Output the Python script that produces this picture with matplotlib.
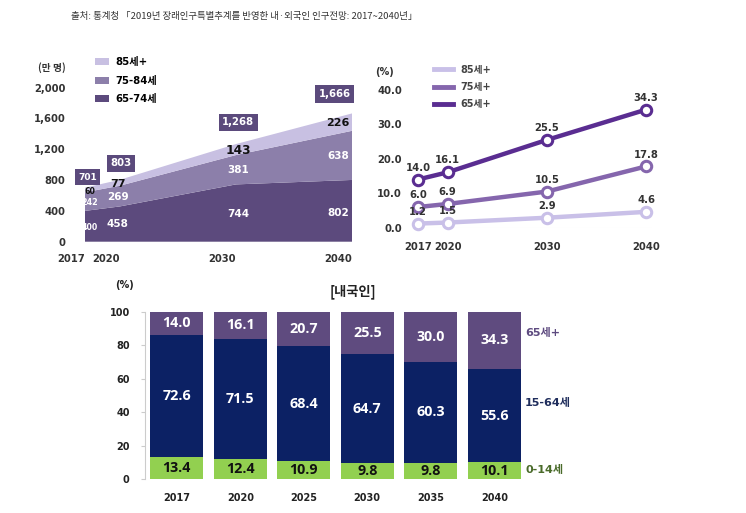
import numpy as np
import matplotlib.pyplot as plt
from matplotlib.patches import Patch
from matplotlib.lines import Line2D

plt.rcParams['font.family'] = ['DejaVu Sans', 'Noto Sans CJK KR']

# --- data ---
years_pop = [2017, 2020, 2030, 2040]
pop_65_74 = [400, 458, 744, 802]
pop_75_84 = [242, 269, 381, 638]
pop_85 = [60, 77, 143, 226]
pop_total = [701, 803, 1268, 1666]

years_ratio = [2017, 2020, 2030, 2040]
ratio_65 = [14.0, 16.1, 25.5, 34.3]
ratio_75 = [6.0, 6.9, 10.5, 17.8]
ratio_85 = [1.2, 1.5, 2.9, 4.6]

bar_years = ['2017', '2020', '2025', '2030', '2035', '2040']
share_0_14 = [13.4, 12.4, 10.9, 9.8, 9.8, 10.1]
share_15_64 = [72.6, 71.5, 68.4, 64.7, 60.3, 55.6]
share_65 = [14.0, 16.1, 20.7, 25.5, 30.0, 34.3]

W, H = 746, 513
fig = plt.figure(figsize=(W / 100, H / 100), dpi=100)

def px_axes(x0, y0, x1, y1):
    # pixel box (top-left origin) -> figure axes
    return fig.add_axes([x0 / W, 1 - y1 / H, (x1 - x0) / W, (y1 - y0) / H])

fig.text(244 / W, 1 - 16 / H,
         '출처: 통계청 「2019년 장래인구특별추계를 반영한 내·외국인 인구전망: 2017~2040년」',
         ha='center', va='center', fontsize=6.8, color='#333333',
         family=['Noto Sans CJK KR', 'DejaVu Sans'])

# --- top left: stacked area ---
c_dark, c_mid, c_light = '#5c4a7d', '#8c7faa', '#c8c0e2'
ax1 = px_axes(85, 87.7, 352, 241.7)
ax1.stackplot(years_pop, pop_65_74, pop_75_84, pop_85,
              colors=[c_dark, c_mid, c_light], linewidth=0)
ax1.set_xlim(2017, 2040)
ax1.set_ylim(0, 2000)
ax1.set_yticks([0, 400, 800, 1200, 1600, 2000])
ax1.set_yticklabels(['0', '400', '800', '1,200', '1,600', '2,000'])
ax1.set_xticks(years_pop)
ax1.set_xticklabels([str(y) for y in years_pop], ha='right')
ax1.tick_params(length=0, labelsize=7.2, labelcolor='#333333', pad=9)
ax1.tick_params(axis='y', pad=14)
for t in ax1.get_xticklabels() + ax1.get_yticklabels():
    t.set_fontweight('bold')
for s in ax1.spines.values():
    s.set_visible(False)

lab_x = [2017.4, 2019.8, 2030.2, 2038.8]
y65 = [190, 230, 360, 372]
y75 = [515, 580, 930, 1110]
y85 = [655, 745, 1190, 1540]
ytot = [840, 1020, 1553, 1918]
fs65 = [5.6, 7.5, 7.5, 7.5]
fs75 = [5.8, 7.5, 7.5, 7.5]
fs85 = [5.7, 8, 8.8, 8]
for i in range(4):
    ax1.text(lab_x[i], y65[i], f'{pop_65_74[i]}', ha='center', va='center',
             color='white', fontsize=fs65[i], fontweight='bold')
    ax1.text(lab_x[i], y75[i], f'{pop_75_84[i]}', ha='center', va='center',
             color='white', fontsize=fs75[i], fontweight='bold')
    ax1.text(lab_x[i], y85[i], f'{pop_85[i]}', ha='center', va='center',
             color='#111111', fontsize=fs85[i], fontweight='bold')
tot_x = [2017.2, 2020.1, 2030.2, 2038.5]
tot_fs = [6.5, 7.3, 7.3, 7.3]
for i in range(4):
    ax1.text(tot_x[i], ytot[i], f'{pop_total[i]:,}', ha='center', va='center',
             color='white', fontsize=tot_fs[i], fontweight='bold',
             bbox=dict(boxstyle='square,pad=0.35', fc='#5b4a7c', ec='none'),
             clip_on=False)

fig.text(52 / W, 1 - 68 / H, '(만 명)', ha='center', va='center',
         fontsize=7, fontweight='bold', color='#333333',
         family=['Noto Sans CJK KR', 'DejaVu Sans'])
leg1 = [Patch(fc=c_light, label='85세+'), Patch(fc=c_mid, label='75-84세'),
        Patch(fc=c_dark, label='65-74세')]
fig.legend(handles=leg1, loc='upper left', bbox_to_anchor=(86 / W, 1 - 48 / H),
           frameon=False, handlelength=1.4, handleheight=0.7,
           labelspacing=0.85, handletextpad=0.6,
           prop={'weight': 'bold', 'size': 7.3,
                 'family': ['DejaVu Sans', 'Noto Sans CJK KR']})

# --- top right: lines ---
l_dark, l_mid, l_light = '#5a2d91', '#8566ad', '#c9c0e8'
ax2 = px_axes(413, 90, 652, 227.7)
series = [(ratio_85, l_light, '85세+'), (ratio_75, l_mid, '75세+'),
          (ratio_65, l_dark, '65세+')]
for vals, col, name in series:
    ax2.plot(years_ratio, vals, color=col, lw=3.2, marker='o', ms=7.5,
             mfc='white', mec=col, mew=2.2, clip_on=False, label=name,
             solid_capstyle='round')
    for x, v in zip(years_ratio, vals):
        ax2.annotate(f'{v:.1f}', (x, v), xytext=(0, 8.5),
                     textcoords='offset points', ha='center', va='center',
                     fontsize=7.2, fontweight='bold', color='#333333')
ax2.set_xlim(2016.5, 2040.6)
ax2.set_ylim(0, 40)
ax2.set_yticks([0, 10, 20, 30, 40])
ax2.set_yticklabels(['0.0', '10.0', '20.0', '30.0', '40.0'])
ax2.set_xticks(years_ratio)
ax2.tick_params(length=0, labelsize=7.2, labelcolor='#333333')
ax2.tick_params(axis='x', pad=10)
ax2.tick_params(axis='y', pad=8)
for t in ax2.get_xticklabels() + ax2.get_yticklabels():
    t.set_fontweight('bold')
for s in ax2.spines.values():
    s.set_visible(False)
ax2.axhline(0, color='#eeeeee', lw=0.8, zorder=0)
fig.text(385 / W, 1 - 72 / H, '(%)', ha='center', va='center',
         fontsize=7, fontweight='bold', color='#333333')
leg2 = [Line2D([], [], color=c, lw=3.5, label=n) for _, c, n in series]
fig.legend(handles=leg2, loc='upper left', bbox_to_anchor=(425 / W, 1 - 56 / H),
           frameon=False, handlelength=2.0, labelspacing=0.75, handletextpad=0.7,
           prop={'weight': 'bold', 'size': 7,
                 'family': ['DejaVu Sans', 'Noto Sans CJK KR']},
           labelcolor='#444444')

# --- bottom: stacked bars ---
b_green, b_navy, b_purple = '#92d050', '#0c2164', '#5f4b7f'
ax3 = px_axes(145, 311.7, 526, 479.3)
xs = np.arange(len(bar_years))
bw = 0.83
bottom_mid = np.array(share_0_14)
bottom_top = bottom_mid + np.array(share_15_64)
ax3.bar(xs, share_0_14, bw, color=b_green)
ax3.bar(xs, share_15_64, bw, bottom=bottom_mid, color=b_navy)
ax3.bar(xs, 100 - bottom_top, bw, bottom=bottom_top, color=b_purple)
bar_font = dict(ha='center', va='center', fontsize=10.3, fontweight='bold',
                family=['Open Sans', 'DejaVu Sans'])
for i in range(len(xs)):
    ax3.text(xs[i], share_0_14[i] / 2, f'{share_0_14[i]:.1f}',
             color='#111111', **bar_font)
    ax3.text(xs[i], bottom_mid[i] + share_15_64[i] / 2, f'{share_15_64[i]:.1f}',
             color='white', **bar_font)
    ax3.text(xs[i], (bottom_top[i] + 100) / 2, f'{share_65[i]:.1f}',
             color='white', **bar_font)
ax3.set_xlim(-0.5, 5.5)
ax3.set_ylim(0, 100)
ax3.set_yticks(range(0, 101, 20))
ax3.set_xticks(xs)
ax3.set_xticklabels(bar_years)
ax3.tick_params(axis='y', length=3, color='#cccccc', labelsize=7,
                labelcolor='#222222', pad=8)
ax3.tick_params(axis='x', length=0, labelsize=7, labelcolor='#222222', pad=10)
for t in ax3.get_xticklabels() + ax3.get_yticklabels():
    t.set_fontweight('bold')
for k in ['top', 'right', 'bottom']:
    ax3.spines[k].set_visible(False)
ax3.spines['left'].set_color('#cccccc')
ax3.spines['left'].set_linewidth(0.8)

fig.text(125 / W, 1 - 285 / H, '(%)', ha='center', va='center',
         fontsize=7, fontweight='bold', color='#222222')
fig.text(353 / W, 1 - 292 / H, '[내국인]', ha='center', va='center',
         fontsize=9.5, fontweight='bold', color='#222222',
         family=['Noto Sans CJK KR', 'DejaVu Sans'])
side = [(333, '65세+', '#5e4b80'), (403, '15-64세', '#1f2d5c'),
        (470, '0-14세', '#4a6b2a')]
for py, txt, col in side:
    fig.text(525 / W, 1 - py / H, txt, ha='left', va='center', fontsize=8,
             fontweight='bold', color=col)

fig.savefig('out.png', dpi=100)
